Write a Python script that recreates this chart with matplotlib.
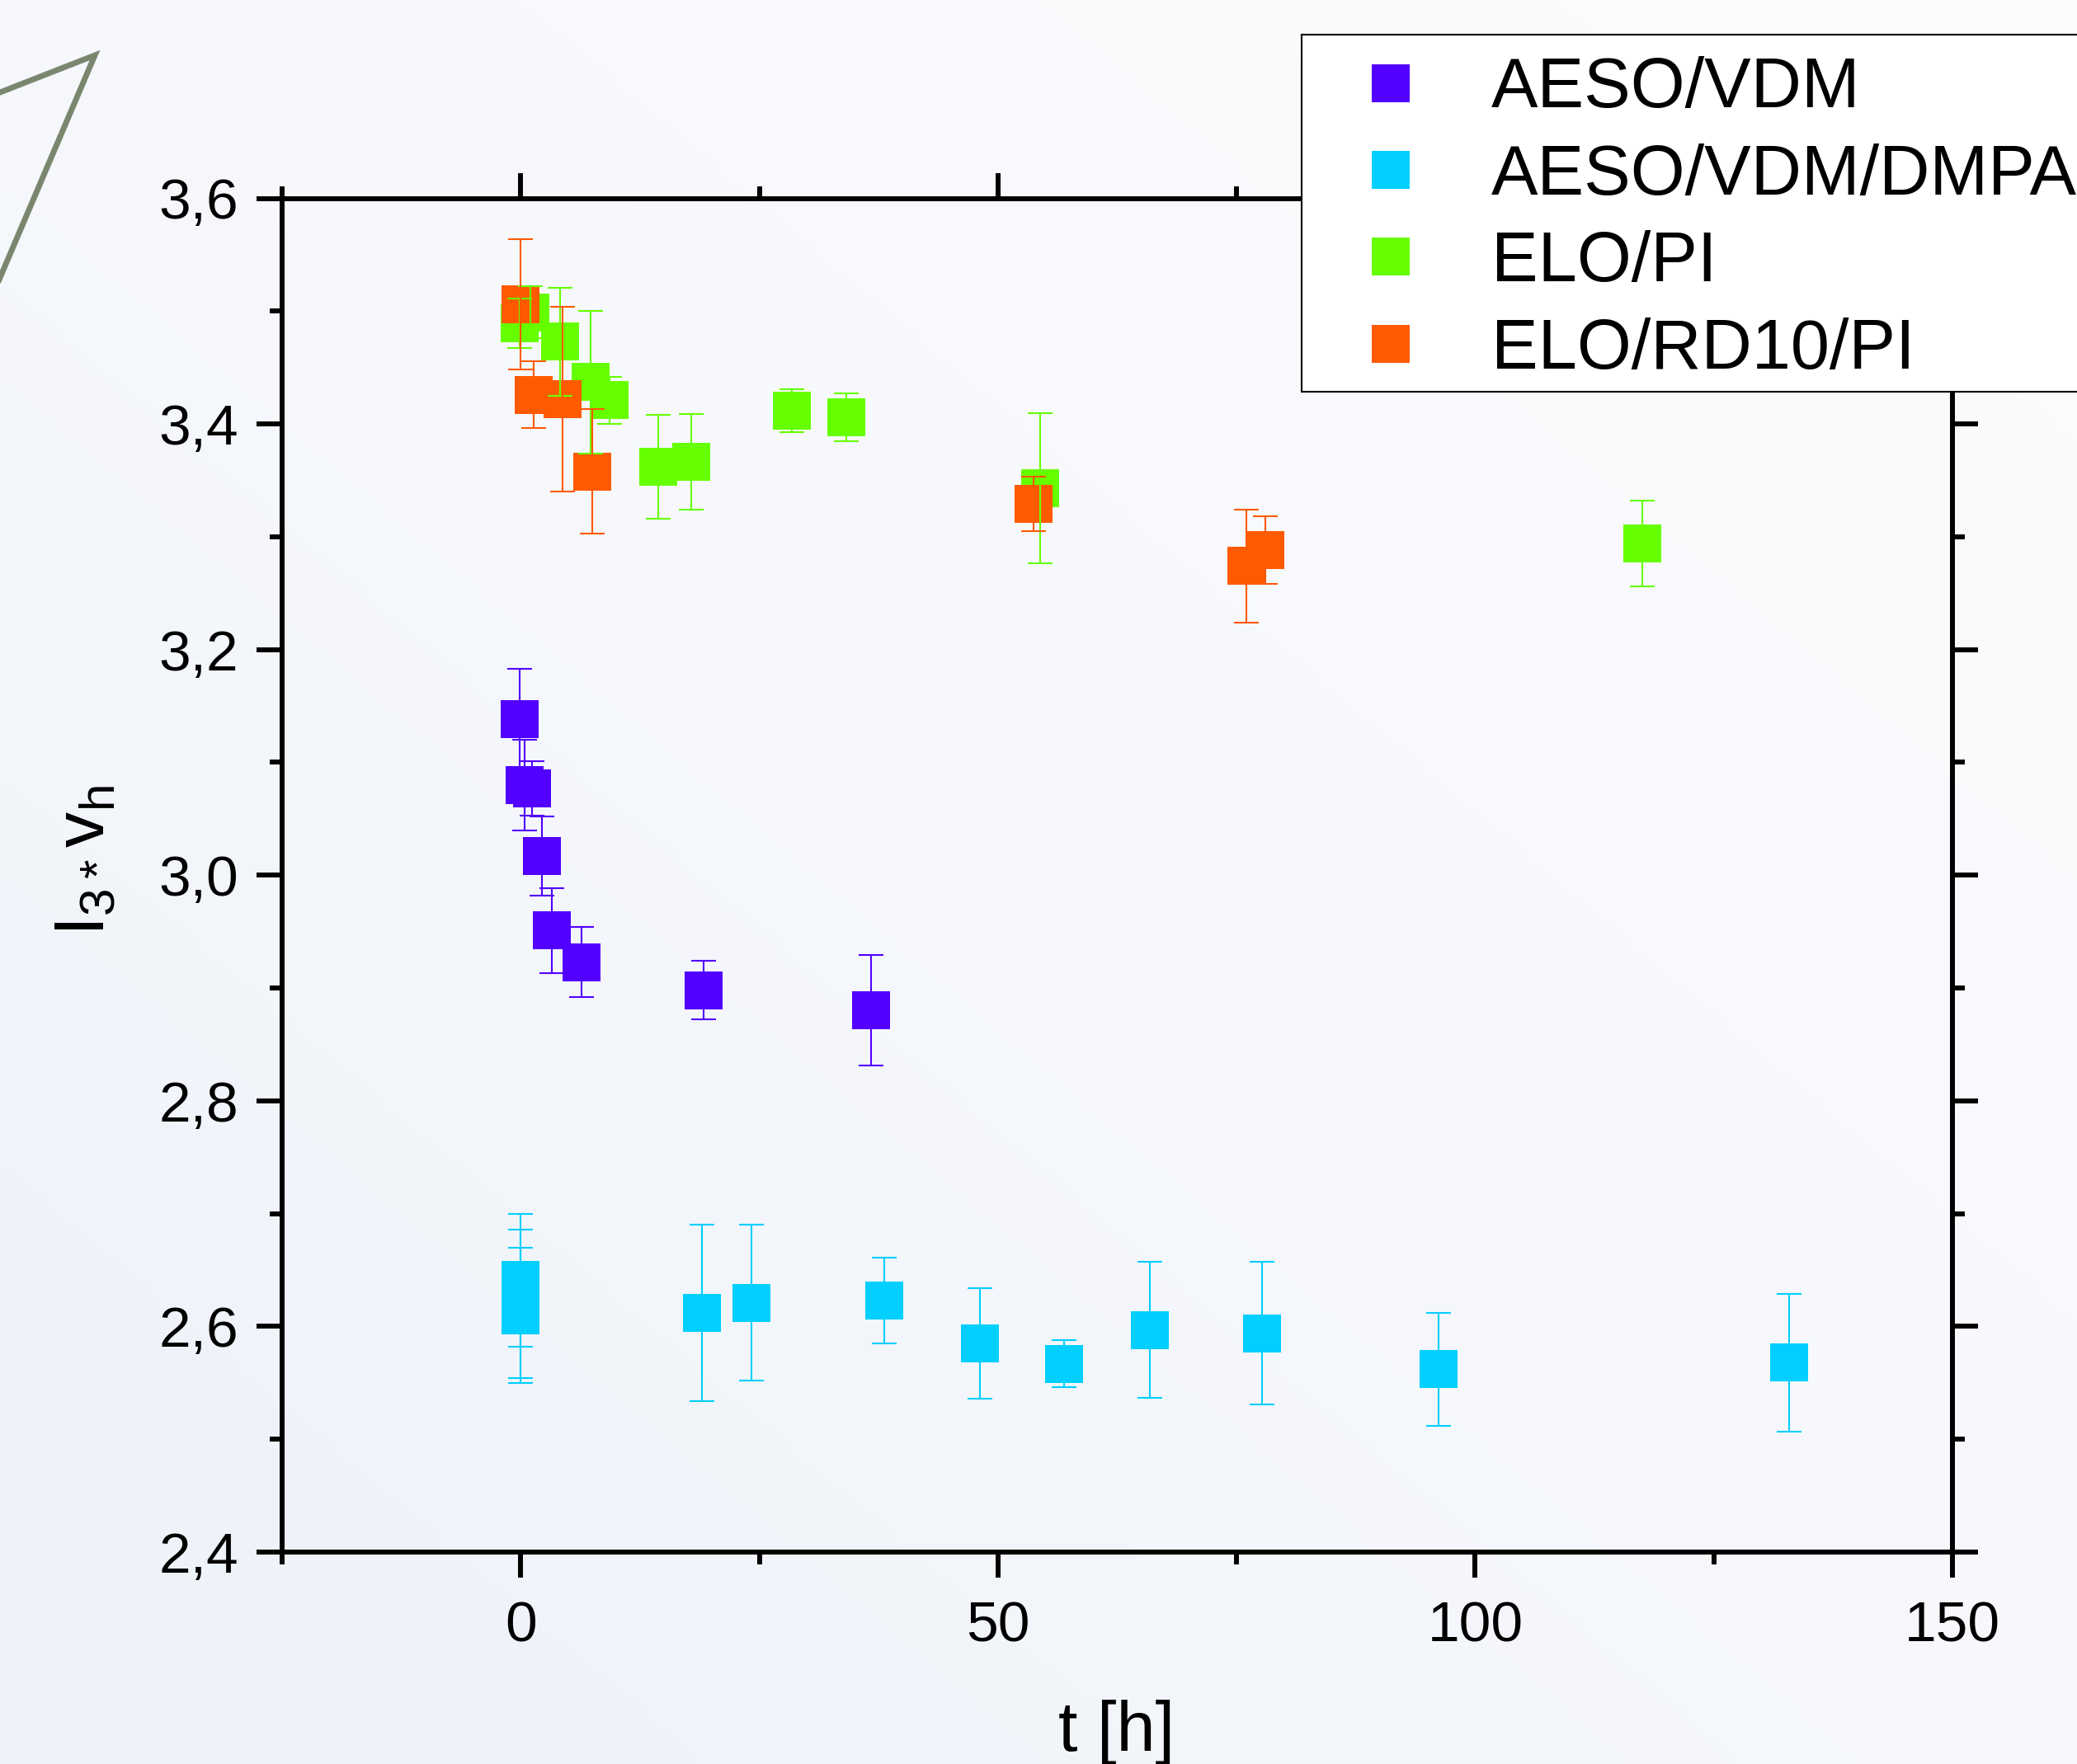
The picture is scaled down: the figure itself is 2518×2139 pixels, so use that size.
import numpy as np
import matplotlib
matplotlib.use("Agg")
import matplotlib.pyplot as plt
from matplotlib.lines import Line2D
from matplotlib.patches import Rectangle
from matplotlib.ticker import MultipleLocator, FuncFormatter
from matplotlib.colors import LinearSegmentedColormap

plt.rcParams['font.family'] = ['Liberation Sans', 'DejaVu Sans']
plt.rcParams['mathtext.default'] = 'regular'

# ---------------- data ----------------
series_names = ["AESO/VDM", "AESO/VDM/DMPA", "ELO/PI", "ELO/RD10/PI"]
series_colors = ["#5200ff", "#00cfff", "#66ff00", "#ff5a00"]

aeso_vdm_t = [-0.1, 0.45, 1.2, 2.2, 3.3, 6.4, 19.2, 36.7]
aeso_vdm_y = [3.138, 3.080, 3.077, 3.017, 2.951, 2.923, 2.898, 2.880]
aeso_vdm_err = [0.045, 0.040, 0.024, 0.035, 0.0375, 0.031, 0.026, 0.049]

aeso_dmpa_t = [0.0, 0.0, 0.0, 19.0, 24.2, 38.1, 48.1, 56.9, 65.9, 77.7, 96.2, 132.9]
aeso_dmpa_y = [2.641, 2.620, 2.610, 2.612, 2.621, 2.623, 2.585, 2.567, 2.597, 2.594, 2.562, 2.568]
aeso_dmpa_err = [0.059, 0.066, 0.060, 0.078, 0.069, 0.038, 0.049, 0.021, 0.060, 0.063, 0.050, 0.061]

elo_pi_t = [-0.1, 1.0, 4.15, 7.3, 9.3, 14.4, 17.9, 28.4, 34.1, 54.4, 117.5]
elo_pi_y = [3.489, 3.499, 3.473, 3.437, 3.421, 3.362, 3.3665, 3.412, 3.406, 3.343, 3.294]
elo_pi_err = [0.022, 0.023, 0.048, 0.063, 0.021, 0.046, 0.0425, 0.019, 0.021, 0.0665, 0.038]

elo_rd_t = [0.0, 1.4, 4.4, 7.5, 53.7, 76.0, 78.0]
elo_rd_y = [3.506, 3.426, 3.422, 3.358, 3.329, 3.274, 3.288]
elo_rd_err = [0.058, 0.0295, 0.082, 0.055, 0.024, 0.050, 0.030]

x_ticks = [0, 50, 100, 150]
y_ticks = [2.4, 2.6, 2.8, 3.0, 3.2, 3.4, 3.6]

all_t = [aeso_vdm_t, aeso_dmpa_t, elo_pi_t, elo_rd_t]
all_y = [aeso_vdm_y, aeso_dmpa_y, elo_pi_y, elo_rd_y]
all_e = [aeso_vdm_err, aeso_dmpa_err, elo_pi_err, elo_rd_err]

# ---------------- figure ----------------
W, H = 2518, 2139
fig = plt.figure(figsize=(W / 100, H / 100), dpi=100)

# background gradient
bg = fig.add_axes([0, 0, 1, 1], zorder=-10)
bg.axis('off')
gx, gy = np.meshgrid(np.linspace(0, 1, 200), np.linspace(0, 1, 200))
g = 0.5 * ((1 - gx) + gy)  # 0 at top-right, 1 at bottom-left (origin upper)
cmap = LinearSegmentedColormap.from_list('bgc', ['#fbfcfd', '#f6f8fc', '#edf2f9'])
bg.imshow(g, cmap=cmap, aspect='auto', extent=[0, 1, 0, 1], origin='upper')
bg.set_xlim(0, 1)
bg.set_ylim(0, 1)

# decorative triangle at top-left
tri_x = np.array([-50, 115, -50]) / W
tri_y = 1 - np.array([131.6, 67, 454]) / H
fig.add_artist(Line2D(tri_x, tri_y, transform=fig.transFigure, color='#7a876e',
                      lw=5, solid_joinstyle='miter'))

ax = fig.add_axes([342 / W, 1 - 1882 / H, (2367 - 342) / W, (1882 - 240.5) / H])
ax.set_facecolor('none')

# markers (orange above green)
for t, y, c in zip(all_t, all_y, series_colors):
    ax.plot(t, y, ls='none', marker='s', ms=33, mew=0, color=c, zorder=3, clip_on=False)
# error bars on top
for t, y, e, c in zip(all_t, all_y, all_e, series_colors):
    ax.errorbar(t, y, yerr=e, fmt='none', ecolor=c, elinewidth=1.5, capsize=11,
                capthick=1.5, zorder=4)

ax.set_xlim(-25, 150)
ax.set_ylim(2.4, 3.6)
ax.set_xticks(x_ticks)
ax.set_yticks(y_ticks)
ax.xaxis.set_minor_locator(MultipleLocator(25))
ax.yaxis.set_minor_locator(MultipleLocator(0.1))
ax.yaxis.set_major_formatter(FuncFormatter(lambda v, p: f"{v:.1f}".replace('.', ',')))
ax.xaxis.set_major_formatter(FuncFormatter(lambda v, p: f"{v:.0f}"))

for s in ax.spines.values():
    s.set_linewidth(4.3)
ax.tick_params(which='both', direction='out', width=4.3, top=True, right=True,
               labeltop=False, labelright=False, labelsize=50)
ax.tick_params(which='major', length=22)
ax.tick_params(which='minor', length=10.5)
ax.tick_params(axis='x', which='major', pad=20)
ax.tick_params(axis='y', which='major', pad=16)

fig.text(104 / W, 1 - 1044 / H, r'$I_{3*}v_h$', rotation=90, ha='center', va='center',
         fontsize=62)
fig.text(1354 / W, 16 / H, 't [h]', ha='center', va='baseline', fontsize=61)

# legend box (drawn separately for exact extent)
box = Rectangle((1578 / W, 1 - 475 / H), (2600 - 1578) / W, (475 - 42) / H,
                transform=fig.transFigure, facecolor='white', edgecolor='black',
                lw=1.5, zorder=9, clip_on=False)
ax.add_patch(box)

handles = [Line2D([], [], ls='none', marker='s', ms=33, mew=0, color=c)
           for c in series_colors]
leg = ax.legend(handles, series_names, loc='upper left',
                bbox_to_anchor=(1578 / W, 1 - 42 / H), bbox_transform=fig.transFigure,
                fontsize=61, frameon=False, borderpad=0.31, handlelength=1.92,
                handletextpad=0.48, labelspacing=0.30, borderaxespad=0)
leg.set_zorder(10)

fig.savefig('out.png', dpi=100)
